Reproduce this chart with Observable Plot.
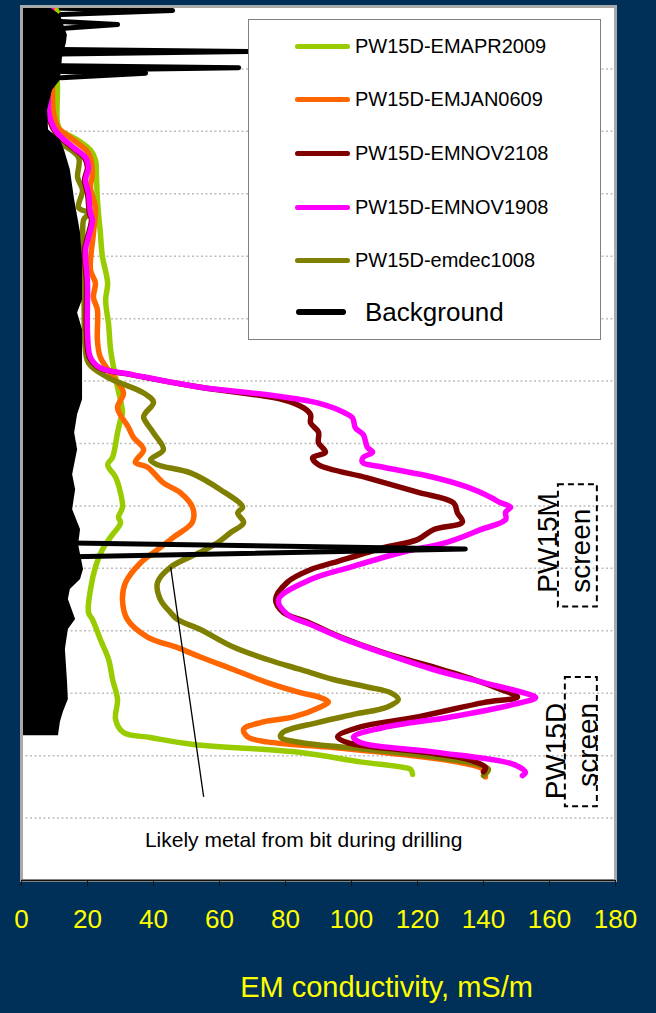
<!DOCTYPE html>
<html>
<head>
<meta charset="utf-8">
<script src="https://cdn.jsdelivr.net/npm/d3@7"></script>
<script src="https://cdn.jsdelivr.net/npm/@observablehq/plot@0.6"></script>
<style>
  html, body { margin: 0; padding: 0; background: #003057; }
  #wrap { position: relative; width: 656px; height: 1013px; overflow: hidden; background: #003057;
          font-family: "Liberation Sans", Arial, sans-serif; }
  #chart svg { position: absolute; left: 0; top: 0; }
  #legend { position: absolute; left: 248px; top: 19px; width: 353px; height: 321px; box-sizing: border-box;
            background: #ffffff; border: 1px solid #808080; }
  .row { position: absolute; left: 0; height: 30px; display: flex; align-items: center; width: 100%; }
  .sw { position: absolute; height: 5px; border-radius: 3px; }
  .lab { position: absolute; color: #000; white-space: nowrap; line-height: 30px; }
</style>
</head>
<body>
<div id="wrap"><div id="chart"></div><div id="legend"></div></div>
<script>
// ---------- data (depth units, conductivity mS/m) ----------
const xTicks = [0, 20, 40, 60, 80, 100, 120, 140, 160, 180];
const depthGrid = [10, 20, 30, 40, 50, 60, 70, 80, 90, 100, 110, 120, 130];

const seriesNames = ["PW15D-EMAPR2009", "PW15D-EMJAN0609", "PW15D-EMNOV2108", "PW15D-EMNOV1908", "PW15D-emdec1008"];
const seriesColors = ["#99cc00", "#ff6600", "#800000", "#ff00ff", "#808000"];
const backgroundName = "Background";

// [depth, value]
const emApr2009 = [[0,11.2],[6,10.6],[13,10.9],[18.7,10.9],[19.8,11.8],[21.4,17],[23,20.9],[24.6,22.4],[27,22.7],[31,23],[36.3,23.9],[40,24.5],[44.3,26.1],[47,25.5],[51,26.4],[55,27],[57.8,27.9],[61,29.1],[65.1,30.6],[66.2,30],[68.3,29.1],[72.2,27.6],[73.4,26.1],[75.4,28.5],[77.9,30],[80.2,30.6],[81.8,29.4],[82.7,30],[85,27],[87,24.5],[89.8,22.4],[93.4,20.9],[97.1,20.3],[98.2,21.5],[101.4,23.9],[104.6,26.4],[107.8,27.6],[111,29.1],[114.2,28.5],[116.3,30.9],[117.1,39.1],[118.2,52.1],[119.5,84.5],[121,102.7],[121.8,114.8],[122.2,117.9],[123,118.5]];

const emJan0609 = [[0,9.5],[13,9.4],[17.1,9.7],[19.5,11.2],[20.2,12.7],[21.9,17],[23.5,20.3],[26.7,21.5],[29,20.9],[32.2,22.4],[36.3,21.8],[42.2,20.9],[44.3,22.4],[46.6,21.8],[48.6,23],[53.4,23],[56.2,23.9],[59.4,27.9],[61.9,30.9],[64.3,29.1],[67.4,32.4],[69,33.9],[71,37],[73,34.5],[73.8,38.2],[76.3,43],[77.9,48.2],[80.2,51.8],[82.6,51.8],[85,46.1],[87,41.2],[89.1,36.1],[92.3,31.5],[95,30.6],[98.2,32.1],[101,38.2],[102.7,47.3],[104.2,54.2],[106.2,64.2],[108.3,74.5],[109.9,84.5],[110.7,90.6],[111.4,93],[112.2,90.6],[113.8,82.4],[114.7,72.4],[115.8,67.3],[117,68.5],[117.8,74.5],[118.7,94.5],[119.8,114.8],[121.1,133],[122.2,140],[123.4,140.6]];

const emNov2108 = [[0,8.5],[16.6,8],[18.2,8.5],[20.3,10.5],[22.6,15.5],[24.2,19],[25.8,20],[27.8,19.1],[29.9,20],[33.1,20.6],[34.2,21.2],[37,20],[39,19.1],[44.3,19.7],[52.3,19.7],[56.2,20.6],[57.9,23.6],[59,33.5],[61,54.2],[63,79.4],[64.3,85.5],[65.4,87.6],[66.7,87.6],[68.2,90],[69.9,90],[71.4,92.1],[72.3,88.2],[73.4,90],[75.5,104.8],[77.8,120],[79.5,130.9],[81.1,132.1],[82.6,133.6],[83.8,124.8],[85.4,120],[86.7,109.7],[89.1,94.5],[90.2,87.6],[92.2,80.6],[95,77],[97.1,79.4],[98.6,86.7],[101,96.7],[103.5,109.7],[105.8,124.8],[107.8,137],[109.4,145.2],[110.6,150.3],[111.5,140],[113.8,120],[115.4,102.7],[117,95.8],[117.9,98.8],[119.4,120.9],[120.6,135.2],[121.9,140.6],[122.6,140]];

const emNov1908 = [[0,9],[16.6,8.2],[18.2,8.8],[20.3,10.9],[22.6,15.8],[24.2,19.4],[25.8,20.3],[27.8,19.4],[29.9,20.3],[33.1,20.9],[34.2,21.5],[37,20.3],[39,19.4],[44.3,20],[52.3,20],[56.2,20.9],[57.9,23.9],[59,33.9],[61,54.2],[62.2,74.5],[63.5,89.7],[65,97.6],[65.9,100.3],[67.5,101.2],[68.6,103.6],[70.6,104.8],[71.4,106.4],[72.2,103.6],[73,103.3],[73.8,109.7],[75.4,124.8],[77,135.2],[78.6,142.1],[79.5,145.2],[80.2,148.2],[81,146.7],[82.2,146.7],[83.8,139.1],[85.8,129.1],[87.5,114.8],[89.8,99.7],[91.8,87.6],[95,77.9],[97.4,80.6],[99,87.6],[101.1,96.7],[103.8,110.9],[106.2,124.8],[108.3,140],[109.8,151.2],[110.7,155.8],[111.8,149.1],[113.8,130],[115.5,109.7],[117,100.6],[117.9,102.7],[119.4,124.8],[121.4,149.1],[122.7,152.7],[123.2,151.8]];

const emDec1008 = [[0,8],[20.3,6.7],[21.9,11.8],[24.2,17.3],[27.4,17],[29.4,18.5],[32.2,17.3],[33.1,20.3],[34.2,18.8],[39,18.8],[43.8,18.9],[49.1,19],[53.9,19.2],[57.1,20.3],[59.4,26.1],[61.9,37],[63.4,40],[65.1,37.6],[65.8,37],[68.3,40],[71,43],[72.6,39.1],[73.4,41.2],[74.7,51.2],[77.4,60.3],[80.2,67],[81.1,65.5],[82.7,67.3],[84.3,63.3],[85.9,59.4],[87.4,54.2],[89.8,45.2],[92.3,41.2],[95,42.1],[97.1,45.2],[98.2,47.3],[99.8,54.2],[102.6,64.2],[104.6,74.5],[106.2,84.5],[107.8,94.5],[109,104.8],[109.9,111.8],[111,114.2],[112.2,110.9],[113.4,100.6],[114.7,89.7],[116.2,79.4],[117,78.5],[117.9,84.5],[119,104.8],[120.2,124.8],[121.4,138.2],[122.2,141.5],[123.2,140]];

// Background log: outer edge of the dense trace, and its isolated spikes
const bgEdge = [[0,8.2],[1.4,11.8],[4.6,13.9],[5.9,13.6],[8.3,12.4],[11.8,11.8],[13.4,9.4],[16.6,7.9],[19.8,8.2],[21.4,11.8],[23,13],[26.2,14.8],[31,16.1],[36.3,17.9],[40.6,18.5],[47,18.5],[49.1,17],[51.8,18.5],[63,18.5],[65.4,17],[68.3,16.1],[71,17],[75,15.5],[77.4,16.4],[80.6,15.5],[83.8,17.9],[86.2,17.3],[90.2,18.8],[91.8,17.9],[93.4,14.8],[95,14.2],[98.2,16.4],[99.8,14.2],[103,13.3],[107.8,13.9],[111,14.2],[113,12.7],[114.6,11.8],[116.8,11.2]];
const bgSpikeA = [[0.3,12],[0.65,45.8],[1.3,12]];
const bgSpikeB = [[2.4,12],[2.9,29.1],[3.5,13]];
const bgSpikeC = [[6.9,12],[7.2,68.8],[7.6,12]];
const bgSpikeD = [[9.5,12],[9.8,65.8],[10.2,12]];
const bgSpikeE = [[10.4,12],[10.7,37.6],[11.4,12]];
const bgSpikeF = [[85.8,0],[86.9,134.5],[88.3,0]];

// annotations
const noteText = ["Likely metal from bit during drilling"];
const noteAt = [85.5, 133.6];            // [value, depth]
const notePointer = [[55.2,126.6],[45.2,89.8]];
const screenBoxes = [
  {x1: 162.7, x2: 174.5, y1: 76.6, y2: 96.2},
  {x1: 164.8, x2: 174.5, y1: 107.5, y2: 128.2}
];
const screenLabels = [
  {x: 159.7, y: 93.9, text: "PW15M"},
  {x: 169.7, y: 93.9, text: "screen"},
  {x: 162.1, y: 127.0, text: "PW15D"},
  {x: 171.8, y: 125.0, text: "screen"}
];
const axisTitle = "EM conductivity, mS/m";

// ---------- build ----------
const toRows = arr => arr.map(([d, v]) => ({depth: d, value: v}));
const seriesData = [emApr2009, emJan0609, emNov2108, emNov1908, emDec1008];
const drawOrder = [0, 1, 4, 2, 3];
const spikes = [bgSpikeA, bgSpikeB, bgSpikeC, bgSpikeD, bgSpikeE, bgSpikeF]
  .flatMap((s, i) => s.map(([d, v]) => ({id: i, depth: d, value: v})));

const lineMarks = drawOrder.map(i => Plot.line(toRows(seriesData[i]), {
  x: "value", y: "depth", stroke: seriesColors[i], strokeWidth: 5.5,
  curve: "catmull-rom", strokeLinecap: "round", strokeLinejoin: "round", clip: true
}));

const chart = Plot.plot({
  width: 656, height: 1013,
  marginTop: 6, marginLeft: 21, marginRight: 41, marginBottom: 133,
  style: {background: "transparent", fontFamily: "Liberation Sans, Arial, sans-serif", overflow: "visible"},
  x: {domain: [0, 180]},
  y: {domain: [0, 140], reverse: true, axis: null},
  marks: [
    Plot.frame({fill: "white"}),
    Plot.ruleY(depthGrid, {stroke: "#bdbdbd", strokeWidth: 1.5, strokeDasharray: "2,2.5"}),
    ...lineMarks,
    Plot.areaX(toRows(bgEdge), {x1: 0, x2: "value", y: "depth", fill: "black", clip: true}),
    Plot.line(spikes, {x: "value", y: "depth", z: "id", stroke: "black", strokeWidth: 5,
      strokeLinecap: "round", strokeLinejoin: "round", clip: true}),
    Plot.link([notePointer], {x1: d => d[0][0], y1: d => d[0][1], x2: d => d[1][0], y2: d => d[1][1],
      stroke: "black", strokeWidth: 1.3}),
    Plot.text(noteText, {x: () => noteAt[0], y: () => noteAt[1], text: d => d, fontSize: 21, fill: "black"}),
    Plot.rect(screenBoxes, {x1: "x1", x2: "x2", y1: "y1", y2: "y2", fill: "none", stroke: "black",
      strokeWidth: 2, strokeDasharray: "6,4"}),
    Plot.text(screenLabels, {x: "x", y: "y", text: "text", rotate: -90, textAnchor: "start",
      fontSize: 28, fill: "black"}),
    Plot.frame({stroke: "#a9a9a9", strokeWidth: 3}),
    Plot.ruleY([140], {stroke: "#111111", strokeWidth: 1.5}),
    Plot.axisX(xTicks, {tickSize: 6, tickPadding: 23, fontSize: 26, stroke: "#111111", fill: "#ffff00",
      label: null, tickFormat: d => String(d)}),
    Plot.text([axisTitle], {frameAnchor: "bottom", dx: 68, dy: 116, text: d => d, fontSize: 29, fill: "#ffff00"})
  ]
});
document.getElementById("chart").appendChild(chart);

// ---------- legend ----------
const legend = document.getElementById("legend");
const rowCenters = [27, 80, 134, 188, 241, 293];
const entries = seriesNames.map((n, i) => ({name: n, color: seriesColors[i], bg: false}))
  .concat([{name: backgroundName, color: "#000000", bg: true}]);
entries.forEach((e, i) => {
  const row = document.createElement("div");
  row.className = "row";
  row.style.top = (rowCenters[i] - 15 - 1) + "px";
  const sw = document.createElement("div");
  sw.className = "sw";
  sw.style.background = e.color;
  sw.style.left = (e.bg ? 47 : 46) + "px";
  sw.style.width = (e.bg ? 50 : 55) + "px";
  sw.style.height = (e.bg ? 6 : 5) + "px";
  sw.style.top = (e.bg ? 12 : 12.5) + "px";
  const lab = document.createElement("div");
  lab.className = "lab";
  lab.textContent = e.name;
  lab.style.left = (e.bg ? 116 : 106) + "px";
  lab.style.fontSize = (e.bg ? 26 : 20) + "px";
  lab.style.top = "0px";
  row.appendChild(sw); row.appendChild(lab);
  legend.appendChild(row);
});
</script>
</body>
</html>
